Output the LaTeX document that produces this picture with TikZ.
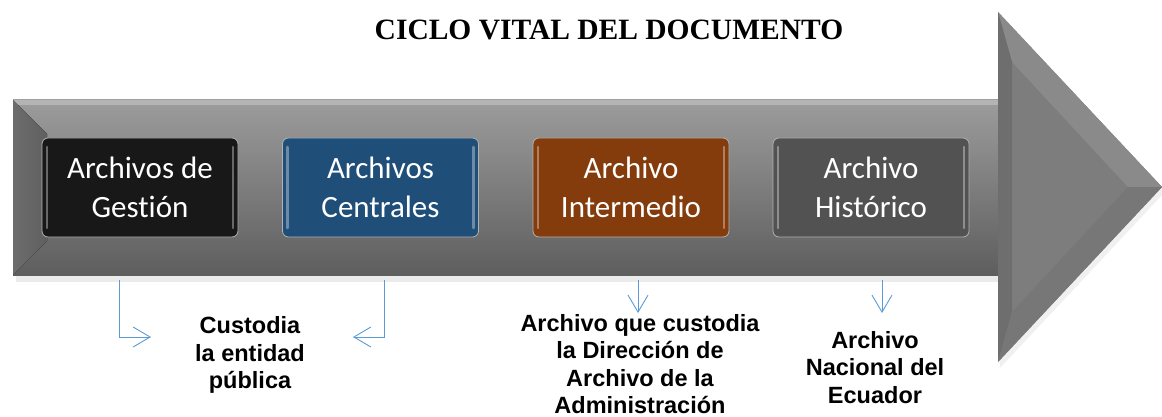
\documentclass[tikz,border=0pt]{standalone}
\usepackage{fontspec}
\setmainfont{Liberation Serif}
\newfontfamily\boxfont[Ligatures=NoCommon]{Carlito}
\newfontfamily\labfont{Liberation Sans}
\usetikzlibrary{arrows.meta}
\definecolor{gestion}{HTML}{191818}
\definecolor{central}{HTML}{1F4E79}
\definecolor{intermedio}{HTML}{843C0C}
\definecolor{historico}{HTML}{525252}
\definecolor{flecha}{HTML}{5B9BD5}
\definecolor{cuerpoA}{HTML}{9C9C9C}
\definecolor{cuerpoB}{HTML}{5F5F5F}
\definecolor{cuerpoC}{HTML}{5E5E5E}
\definecolor{punta}{HTML}{7D7D7D}
\tikzset{
  archbox/.style={rounded corners=6pt, draw=gray!60, line width=0.8pt, text=white,
    minimum width=196pt, minimum height=99pt, inner sep=0pt, align=center,
    font=\boxfont\fontsize{31}{39}\selectfont,
    path picture={
      \draw[white, opacity=.35, line width=2.5pt, line cap=round]
        ([xshift=5pt,yshift=-9pt]path picture bounding box.north west) --
        ([xshift=5pt,yshift=9pt]path picture bounding box.south west);
      \draw[white, opacity=.35, line width=2.5pt, line cap=round]
        ([xshift=-5pt,yshift=-9pt]path picture bounding box.north east) --
        ([xshift=-5pt,yshift=9pt]path picture bounding box.south east);}},
  lab/.style={align=center, inner sep=0pt,
    font=\labfont\bfseries\fontsize{23.5}{27.5}\selectfont},
  conn/.style={draw=flecha, line width=0.9pt,
    -{Straight Barb[length=17pt,width=20pt,line width=0.9pt]}}
}
\begin{document}
\begin{tikzpicture}[x=1pt,y=-1pt]
\useasboundingbox (0,0) rectangle (1162,417);

%big arrow
  \fill[black, opacity=.08] (16,104) rectangle (1000,282);
  \fill[black, opacity=.06] (1000,20) -- (1165,192) -- (1000,368) -- cycle;
  \shade[top color=cuerpoA, middle color=cuerpoB, bottom color=cuerpoC]
    (13,100) rectangle (998,275);
  \fill[left color=gray!85!black, right color=gray!75!black]
    (13,100) -- (47,134) -- (47,241) -- (13,275) -- cycle;
  \fill[white, opacity=.25] (13,100) -- (998,100) -- (998,105) -- (18,105) -- cycle;
  \fill[punta] (998,12) -- (1162,187) -- (998,362) -- cycle;
  \fill[punta!90!white] (998,12) -- (1162,187) -- (1128,187) -- (1012,62) -- cycle;
  \fill[punta!88!black] (998,12) -- (1012,62) -- (1012,312) -- (998,362) -- cycle;
  \fill[punta!95!black] (998,362) -- (1162,187) -- (1128,187) -- (1012,312) -- cycle;

  \node (t) at (609,30) {\bfseries\fontsize{29.5}{35}\selectfont CICLO VITAL DEL DOCUMENTO};

  \node[archbox, fill=gestion] (b1) at (140,187.5) {Archivos de\\Gestión};
  \node[archbox, fill=central] (b2) at (380.5,187.5) {Archivos\\Centrales};
  \node[archbox, fill=intermedio] (b3) at (631,187.5) {Archivo\\Intermedio};
  \node[archbox, fill=historico] (b4) at (871,187.5) {Archivo\\Histórico};

  \node[lab] (l1) at (250,355) {Custodia\\la entidad\\pública};
  \node[lab] (l3) at (640,364) {Archivo que custodia\\la Dirección de\\Archivo de la\\Administración};
  \node[lab] (l4) at (875,367.5) {Archivo\\Nacional del\\Ecuador};

  \coordinate (s1) at (119,280);
  \coordinate (e1) at (151,337);
  \coordinate (s2) at (384,280);
  \coordinate (e2) at (353,337);
  \coordinate (s3) at (638,280);
  \coordinate (e3) at (638,313);
  \coordinate (s4) at (882,280);
  \coordinate (e4) at (882,313);
  \draw[conn] (s1) |- (e1);
  \draw[conn] (s2) |- (e2);
  \draw[conn] (s3) -- (e3);
  \draw[conn] (s4) -- (e4);
\end{tikzpicture}
\end{document}
